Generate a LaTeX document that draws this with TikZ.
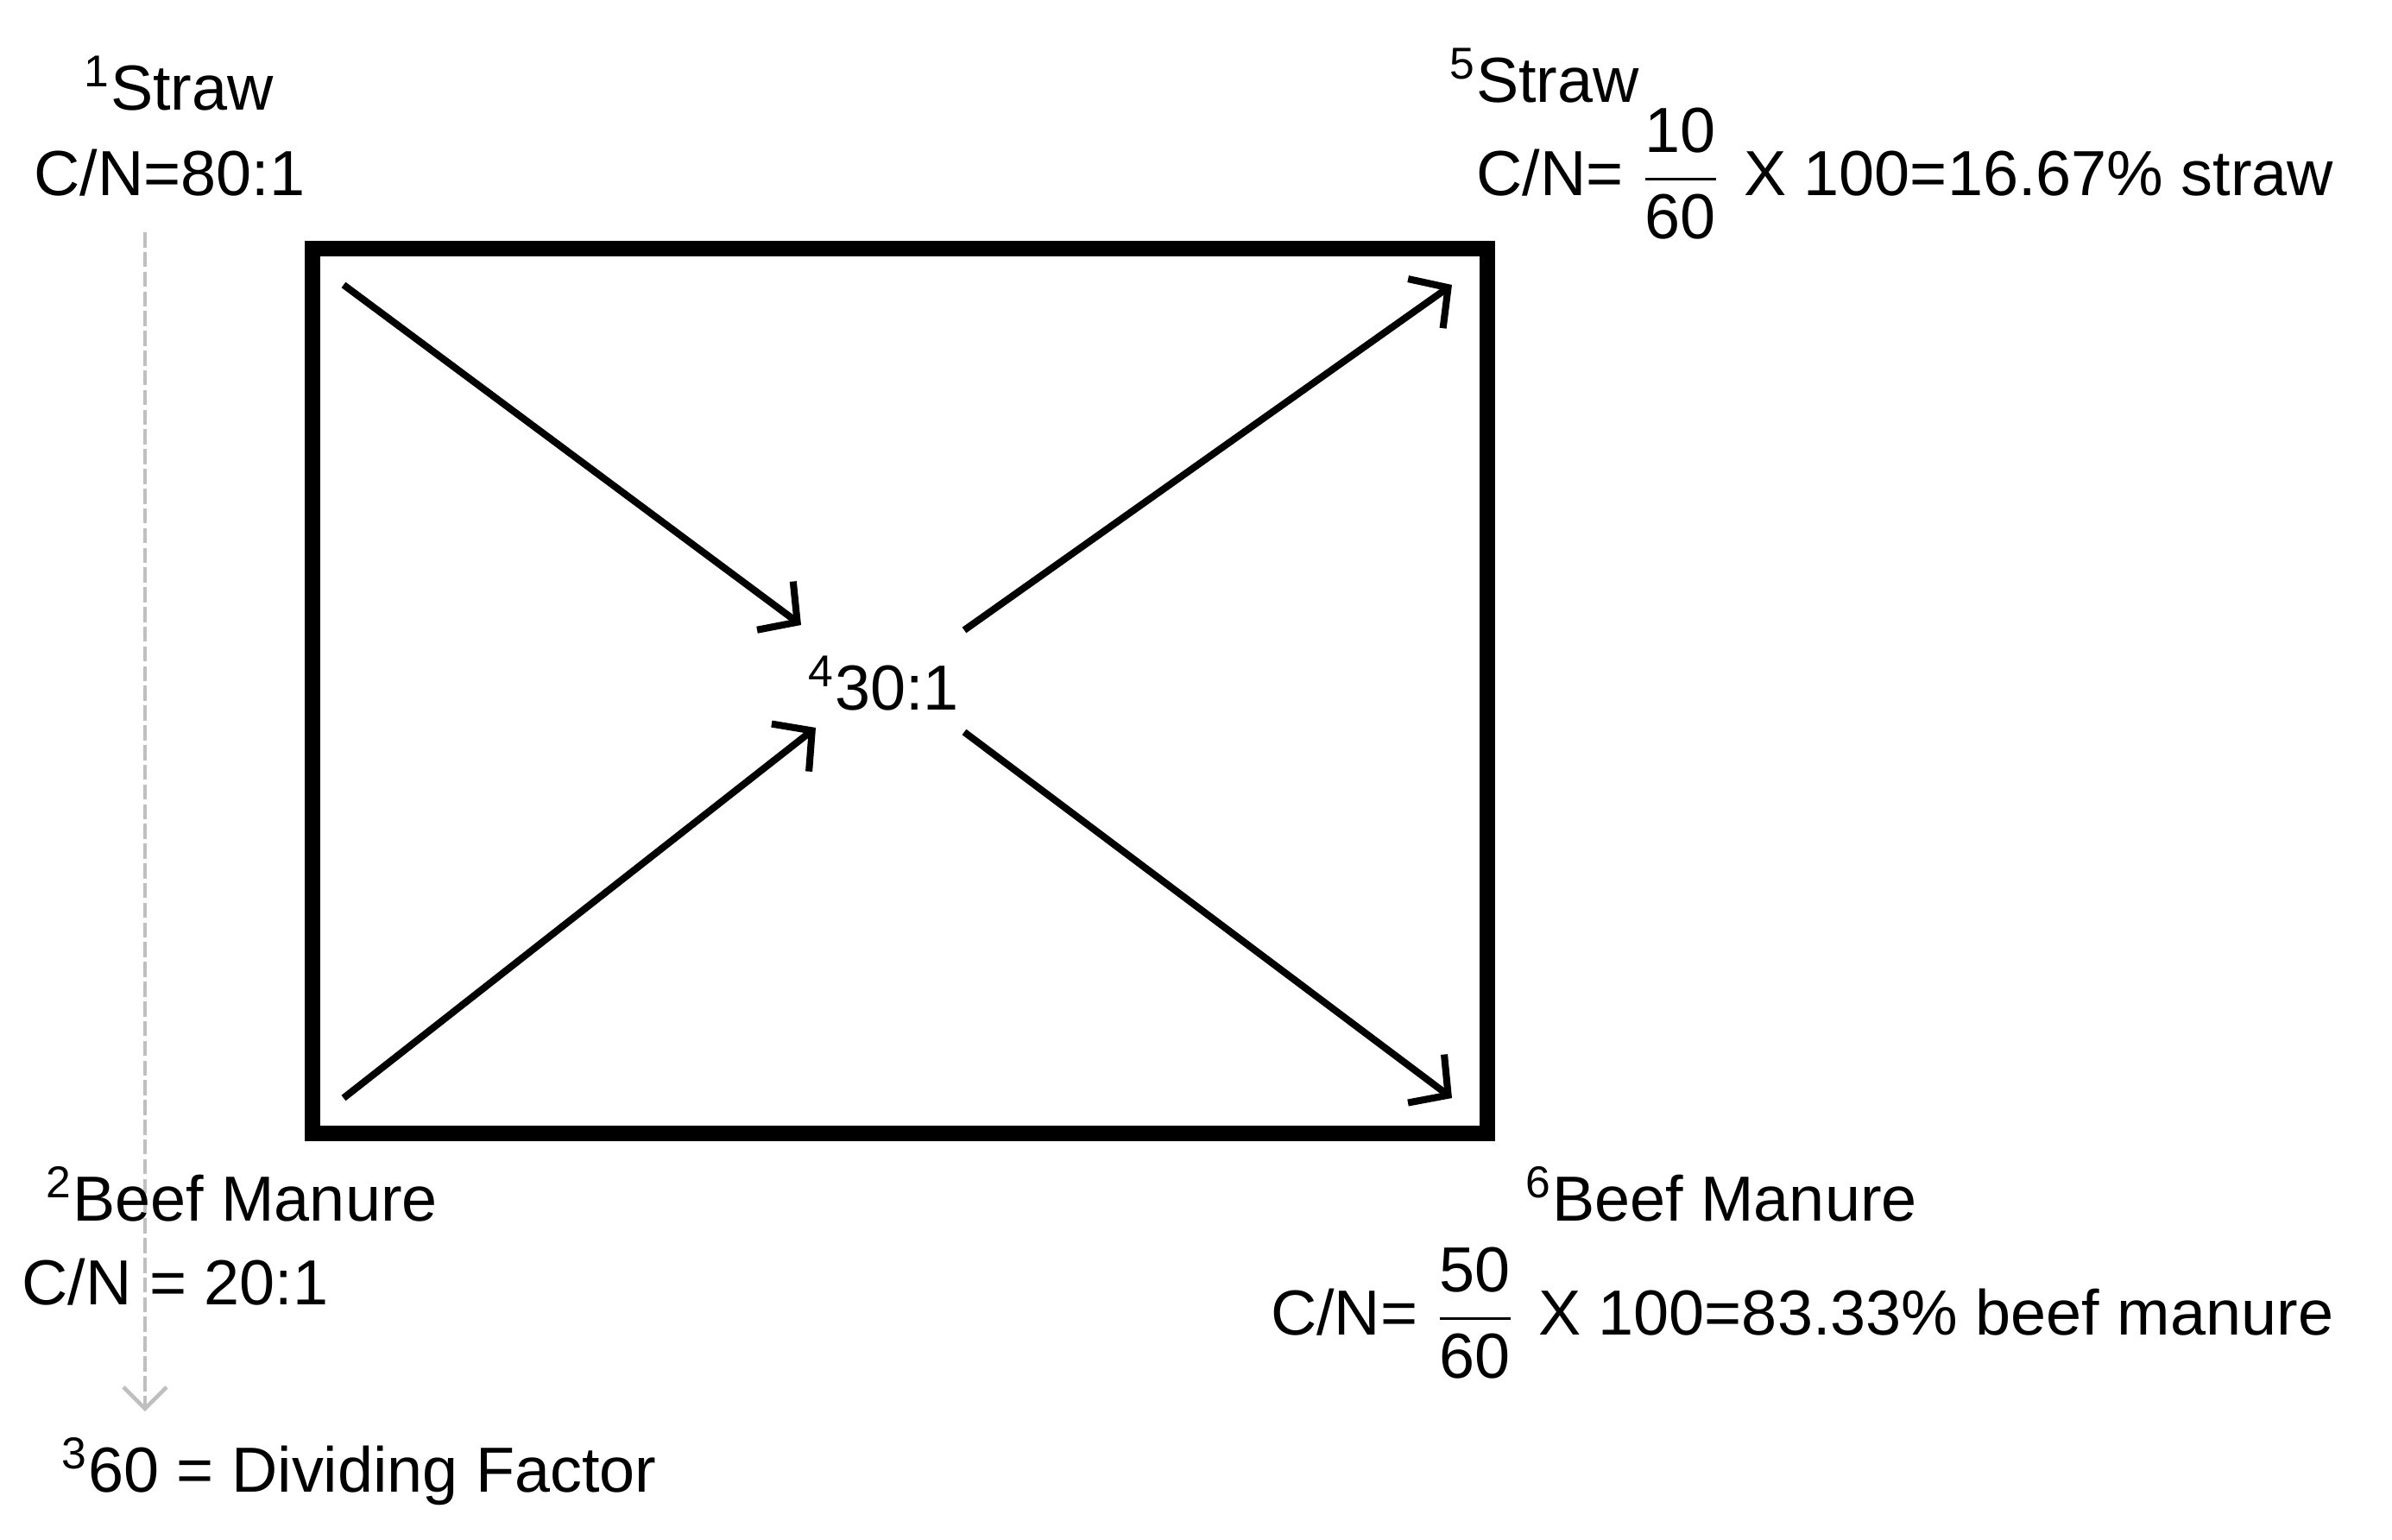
\documentclass[tikz,border=0pt]{standalone}
\usepackage{fontspec}
\usepackage{amsmath}
\setmainfont{Liberation Sans}
\usetikzlibrary{arrows.meta}
\newcommand\cnfrac[2]{\hspace{6pt}$\dfrac{\hbox{#1}}{\hbox{#2}}$\hspace{8pt}}
\begin{document}
\begin{tikzpicture}[x=1cm,y=1cm,
  lbl/.style={inner sep=0pt, font=\fontsize{21}{25}\selectfont, text=black},
  flow/.style={line width=2.3pt, -{Straight Barb[length=3.2mm,width=7mm,line width=2.3pt]}},
  guide/.style={line width=1.3pt, black!25, dash pattern=on 5pt off 1.5pt, -{Straight Barb[length=2.5mm,width=5mm]}}]
\useasboundingbox (0,0) rectangle (27.71,-17.84);
% frame
\node[draw, line width=5pt, minimum width=13.61cm, minimum height=10.25cm, inner sep=0pt] (box) at (10.425,-8.005) {};
% guide line
\coordinate (g1) at (1.68,-2.69);
\coordinate (g2) at (1.68,-16.35);
\draw[guide] (g1) -- (g2);
% labels
\node[lbl, anchor=base west] (s1) at (0.97,-1.27) {\textsuperscript{1}Straw};
\node[lbl, anchor=base west] (c1) at (0.39,-2.26) {C/N=80:1};
\node[lbl, anchor=base west] (b2) at (0.53,-14.14) {\textsuperscript{2}Beef Manure};
\node[lbl, anchor=base west] (c2) at (0.25,-15.11) {C/N = 20:1};
\node[lbl, anchor=base west] (d3) at (0.71,-17.28) {\textsuperscript{3}60 = Dividing Factor};
\node[lbl, anchor=base west] (m4) at (9.36,-8.22) {\textsuperscript{4}30:1};
\node[lbl, anchor=base west] (s5) at (16.79,-1.18) {\textsuperscript{5}Straw};
\node[lbl, anchor=base east] (c5) at (27.04,-2.26) {C/N=\cnfrac{10}{60}X 100=16.67\% straw};
\node[lbl, anchor=base west] (b6) at (17.67,-14.14) {\textsuperscript{6}Beef Manure};
\node[lbl, anchor=base east] (c6) at (27.04,-15.46) {C/N=\cnfrac{50}{60}X 100=83.33\% beef manure};
% arrows
\coordinate (a1) at (3.98,-3.30);
\coordinate (a1e) at (9.28,-7.24);
\coordinate (a2) at (3.98,-12.72);
\coordinate (a2e) at (9.45,-8.43);
\coordinate (a3) at (11.17,-7.30);
\coordinate (a3e) at (16.82,-3.30);
\coordinate (a4) at (11.17,-8.48);
\coordinate (a4e) at (16.82,-12.72);
\draw[flow] (a1) -- (a1e);
\draw[flow] (a2) -- (a2e);
\draw[flow] (a3) -- (a3e);
\draw[flow] (a4) -- (a4e);
\end{tikzpicture}
\end{document}
